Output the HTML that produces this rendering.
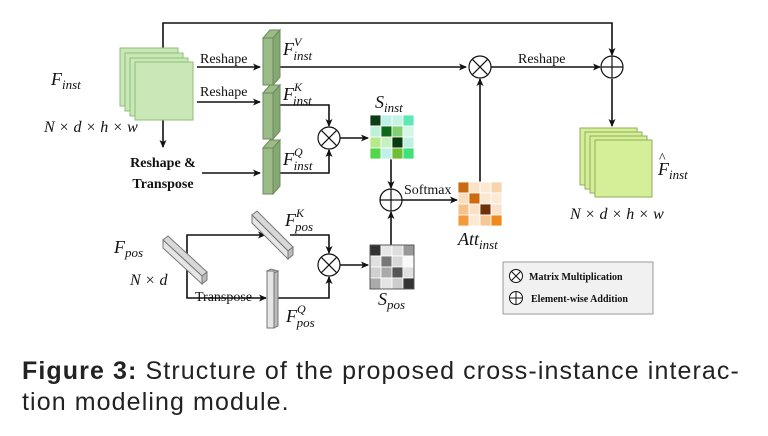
<!DOCTYPE html>
<html><head><meta charset="utf-8"><style>
html,body{margin:0;padding:0;background:#fff;width:768px;height:436px;overflow:hidden}
.cap{position:absolute;left:22px;font-family:"Liberation Sans",sans-serif;font-size:25px;letter-spacing:1.1px;color:#222;white-space:nowrap;line-height:30px}
</style></head><body>
<svg width="768" height="436" style="position:absolute;left:0;top:0" font-family="Liberation Serif,serif">
<defs><marker id="a" markerWidth="8" markerHeight="8" refX="7" refY="4" orient="auto" markerUnits="userSpaceOnUse"><path d="M0,0.5 L8,4 L0,7.5 L2,4z" fill="#111"/></marker></defs>
<g stroke="#111" stroke-width="1.6" fill="none">
<polyline points="163,48 163,23 612,23 612,55" marker-end="url(#a)"/>
<line x1="163" y1="120" x2="163" y2="147" marker-end="url(#a)"/>
<line x1="197" y1="67" x2="260" y2="67" marker-end="url(#a)"/>
<line x1="197" y1="102" x2="260" y2="102" marker-end="url(#a)"/>
<line x1="202" y1="173" x2="260" y2="173" marker-end="url(#a)"/>
<line x1="280" y1="67" x2="466" y2="67" marker-end="url(#a)"/>
<polyline points="280,105 329,105 329,126" marker-end="url(#a)"/>
<polyline points="280,173 329,173 329,150" marker-end="url(#a)"/>
<line x1="340" y1="138" x2="368" y2="138" marker-end="url(#a)"/>
<line x1="391" y1="158" x2="391" y2="188" marker-end="url(#a)"/>
<line x1="402" y1="200" x2="457" y2="200" marker-end="url(#a)"/>
<line x1="480" y1="182" x2="480" y2="79" marker-end="url(#a)"/>
<line x1="491" y1="67" x2="600" y2="67" marker-end="url(#a)"/>
<line x1="612" y1="79" x2="612" y2="126" marker-end="url(#a)"/>
<polyline points="187,250 187,235 265,235" marker-end="url(#a)"/>
<polyline points="187,250 187,298 266,298" marker-end="url(#a)"/>
<polyline points="290,235 329,235 329,253" marker-end="url(#a)"/>
<polyline points="276,298 329,298 329,277" marker-end="url(#a)"/>
<line x1="340" y1="265" x2="368" y2="265" marker-end="url(#a)"/>
<line x1="391" y1="245" x2="391" y2="212" marker-end="url(#a)"/>
</g>
<g fill="#c9e7b7" stroke="#8cbf7a" stroke-width="1">
<rect x="120" y="48" width="58" height="58"/><rect x="125" y="53" width="58" height="58"/><rect x="130" y="58" width="58" height="58"/><rect x="135" y="62" width="58" height="58"/>
</g>
<g fill="#d5ee98" stroke="#8fae58" stroke-width="1">
<rect x="580" y="128" width="57" height="57"/><rect x="585" y="132" width="57" height="57"/><rect x="590" y="136" width="57" height="57"/><rect x="595" y="140" width="57" height="57"/>
</g>
<g fill="#9bbb88" stroke="#6d8a5e" stroke-width="1">
<polygon points="263,38 270,30 280,30 273,38"/><rect x="263" y="38" width="10" height="47"/><polygon points="273,38 280,30 280,77 273,85" fill="#86a874"/>
<polygon points="263,93 270,85 280,85 273,93"/><rect x="263" y="93" width="10" height="46"/><polygon points="273,93 280,85 280,131 273,139" fill="#86a874"/>
<polygon points="263,148 270,140 280,140 273,148"/><rect x="263" y="148" width="10" height="46"/><polygon points="273,148 280,140 280,186 273,194" fill="#86a874"/>
</g>
<g fill="#d8d8d8" stroke="#777" stroke-width="1">
<polygon points="163,240 168,236 207,272 202,276"/><polygon points="202,276 207,272 207,280 202,284" fill="#bbb"/><polygon points="163,240 202,276 202,284 163,248" fill="#e6e6e6"/>
<polygon points="252,215 257,211 293,247 288,251"/><polygon points="288,251 293,247 293,255 288,259" fill="#bbb"/><polygon points="252,215 288,251 288,259 252,223" fill="#e6e6e6"/>
<polygon points="267,271 271,269 278,271 274,273"/><rect x="267" y="271" width="7" height="57" fill="#e6e6e6"/><polygon points="274,273 278,271 278,326 274,328" fill="#bbb"/>
</g>
<g stroke="#111" stroke-width="1.2" fill="#fff">
<circle cx="329" cy="138" r="11"/><path d="M321.2,130.2L336.8,145.8M336.8,130.2L321.2,145.8"/>
<circle cx="329" cy="265" r="11"/><path d="M321.2,257.2L336.8,272.8M336.8,257.2L321.2,272.8"/>
<circle cx="480" cy="67" r="11"/><path d="M472.2,59.2L487.8,74.8M487.8,59.2L472.2,74.8"/>
<circle cx="391" cy="200" r="11"/><path d="M380,200H402M391,189V211"/>
<circle cx="612" cy="67" r="11"/><path d="M601,67H623M612,56V78"/>
</g>
<g stroke="#fff" stroke-width="0.8">
<rect x="370" y="115" width="11" height="11" fill="#0d3d14"/><rect x="381" y="115" width="11" height="11" fill="#bdf0e8"/><rect x="392" y="115" width="11" height="11" fill="#c6f3e4"/><rect x="403" y="115" width="11" height="11" fill="#5ee8b5"/>
<rect x="370" y="126" width="11" height="11" fill="#c0f0dc"/><rect x="381" y="126" width="11" height="11" fill="#0f6a1e"/><rect x="392" y="126" width="11" height="11" fill="#84d070"/><rect x="403" y="126" width="11" height="11" fill="#d5f5e6"/>
<rect x="370" y="137" width="11" height="11" fill="#b6e98a"/><rect x="381" y="137" width="11" height="11" fill="#c6f0bf"/><rect x="392" y="137" width="11" height="11" fill="#0a3a10"/><rect x="403" y="137" width="11" height="11" fill="#c0f0e0"/>
<rect x="370" y="148" width="11" height="11" fill="#52d74a"/><rect x="381" y="148" width="11" height="11" fill="#c0f0e8"/><rect x="392" y="148" width="11" height="11" fill="#6fbf34"/><rect x="403" y="148" width="11" height="11" fill="#40e07a"/>
<rect x="458" y="182" width="11" height="11" fill="#c96a14"/><rect x="469" y="182" width="11" height="11" fill="#fbe3c8"/><rect x="480" y="182" width="11" height="11" fill="#fde8d2"/><rect x="491" y="182" width="11" height="11" fill="#f8d4ac"/>
<rect x="458" y="193" width="11" height="11" fill="#fbdcbc"/><rect x="469" y="193" width="11" height="11" fill="#cf6a0c"/><rect x="480" y="193" width="11" height="11" fill="#fbe6d0"/><rect x="491" y="193" width="11" height="11" fill="#fde9d6"/>
<rect x="458" y="204" width="11" height="11" fill="#f6c28c"/><rect x="469" y="204" width="11" height="11" fill="#fbe0c4"/><rect x="480" y="204" width="11" height="11" fill="#6e3208"/><rect x="491" y="204" width="11" height="11" fill="#fbe3ca"/>
<rect x="458" y="215" width="11" height="11" fill="#f39a3c"/><rect x="469" y="215" width="11" height="11" fill="#fde8d4"/><rect x="480" y="215" width="11" height="11" fill="#f6c898"/><rect x="491" y="215" width="11" height="11" fill="#f08a1c"/>
<rect x="370" y="245" width="11" height="11" fill="#333"/><rect x="381" y="245" width="11" height="11" fill="#e6e6e6"/><rect x="392" y="245" width="11" height="11" fill="#ddd"/><rect x="403" y="245" width="11" height="11" fill="#999"/>
<rect x="370" y="256" width="11" height="11" fill="#e0e0e0"/><rect x="381" y="256" width="11" height="11" fill="#777"/><rect x="392" y="256" width="11" height="11" fill="#d8d8d8"/><rect x="403" y="256" width="11" height="11" fill="#fafafa"/>
<rect x="370" y="267" width="11" height="11" fill="#d0d0d0"/><rect x="381" y="267" width="11" height="11" fill="#aaa"/><rect x="392" y="267" width="11" height="11" fill="#555"/><rect x="403" y="267" width="11" height="11" fill="#e0e0e0"/>
<rect x="370" y="278" width="11" height="11" fill="#aaa"/><rect x="381" y="278" width="11" height="11" fill="#e4e4e4"/><rect x="392" y="278" width="11" height="11" fill="#ccc"/><rect x="403" y="278" width="11" height="11" fill="#333"/>
</g>
<rect x="370" y="245" width="44" height="44" fill="none" stroke="#333" stroke-width="0.8"/>
<rect x="503" y="262" width="150" height="52" fill="#f1f1f1" stroke="#999" stroke-width="1"/>
<g stroke="#111" stroke-width="1" fill="#fff">
<circle cx="516" cy="276" r="6.5"/><path d="M511.4,271.4L520.6,280.6M520.6,271.4L511.4,280.6"/>
<circle cx="516" cy="298" r="6.5"/><path d="M509.5,298H522.5M516,291.5V304.5"/>
</g>
<g font-size="10" font-weight="bold" fill="#111">
<text x="529" y="280">Matrix Multiplication</text>
<text x="531" y="302">Element-wise Addition</text>
</g>
<g font-size="14" fill="#111">
<text x="200" y="63">Reshape</text>
<text x="200" y="96">Reshape</text>
<text x="518" y="63">Reshape</text>
<text x="404" y="194">Softmax</text>
<text x="195" y="301">Transpose</text>
<text x="163" y="167" text-anchor="middle" font-weight="bold">Reshape &amp;</text>
<text x="163" y="188" text-anchor="middle" font-weight="bold">Transpose</text>
</g>
<g font-style="italic" fill="#111">
<text x="51" y="85" font-size="18">F<tspan font-size="13" dy="4">inst</tspan></text>
<text x="44" y="132" font-size="16">N × d × h × w</text>
<text x="283" y="55" font-size="18">F<tspan font-size="12" dy="-9">V</tspan><tspan font-size="13" dx="-8" dy="14">inst</tspan></text>
<text x="283" y="100" font-size="18">F<tspan font-size="12" dy="-9">K</tspan><tspan font-size="13" dx="-9" dy="14">inst</tspan></text>
<text x="283" y="165" font-size="18">F<tspan font-size="12" dy="-9">Q</tspan><tspan font-size="13" dx="-9" dy="14">inst</tspan></text>
<text x="375" y="108" font-size="18">S<tspan font-size="13" dy="4">inst</tspan></text>
<text x="458" y="245" font-size="18">Att<tspan font-size="13" dy="4">inst</tspan></text>
<text x="378" y="305" font-size="18">S<tspan font-size="13" dy="4">pos</tspan></text>
<text x="114" y="253" font-size="18">F<tspan font-size="13" dy="4">pos</tspan></text>
<text x="130" y="285" font-size="16">N × d</text>
<text x="285" y="226" font-size="18">F<tspan font-size="12" dy="-9">K</tspan><tspan font-size="13" dx="-9" dy="14">pos</tspan></text>
<text x="286" y="322" font-size="18">F<tspan font-size="12" dy="-9">Q</tspan><tspan font-size="13" dx="-9" dy="14">pos</tspan></text>
<text x="658" y="175" font-size="18">F<tspan font-size="13" dy="4">inst</tspan></text>
<text x="570" y="219" font-size="16">N × d × h × w</text>
</g>
<text x="659" y="162" font-size="14" fill="#111">^</text>
</svg>
<div class="cap" style="top:356px"><b>Figure 3:</b> Structure of the proposed cross-instance interac-</div>
<div class="cap" style="top:387px">tion modeling module.</div>
</body></html>
